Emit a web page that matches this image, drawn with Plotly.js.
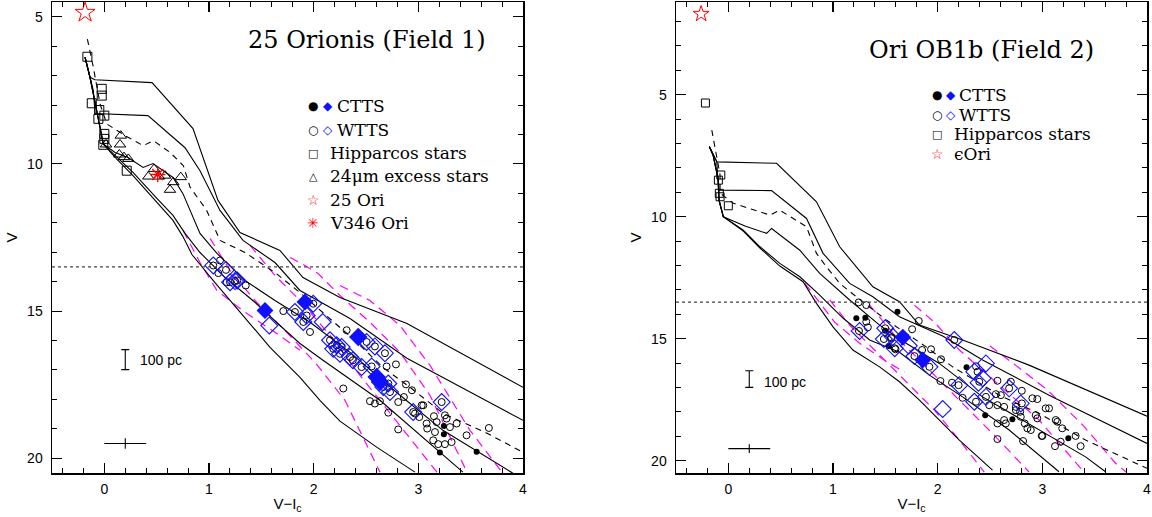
<!DOCTYPE html>
<html><head><meta charset="utf-8">
<script src="https://cdn.plot.ly/plotly-3.0.1.min.js"></script>
<style>html,body{margin:0;padding:0;background:#fff}#plot{width:1152px;height:517px}</style>
</head><body><div id="plot"></div>
<script>
// ---------------- LEFT PANEL (25 Orionis, Field 1) ----------------
const L_isoA = [[-0.184,6.38],[-0.137,7.06],[-0.089,7.14],[0.456,7.24],[0.847,8.80],[1.086,11.24],[1.296,12.33],[1.678,12.94],[1.898,13.86],[2.251,14.54],[2.891,15.42],[4.0,17.59]];
const L_isoB = [[-0.184,6.38],[-0.137,7.06],[-0.105,7.51],[-0.089,8.29],[0.417,8.36],[0.771,9.45],[0.914,10.23],[1.105,11.58],[1.325,12.60],[1.630,13.35],[1.869,14.30],[2.347,15.25],[2.891,16.60],[4.0,18.71]];
const L_isoDash = [[-0.162,5.76],[-0.105,6.72],[-0.041,7.96],[0.023,8.64],[0.198,9.04],[0.372,9.38],[0.468,9.21],[0.628,9.61],[0.755,10.06],[0.819,10.79],[0.978,11.58],[1.105,12.60],[1.344,13.01],[1.630,13.69],[1.869,14.37],[2.155,15.25],[2.394,16.0],[2.662,16.91],[2.920,17.59],[3.235,18.47],[3.656,19.15],[4.0,19.80]];
const L_isoC = [[-0.184,6.38],[-0.137,7.06],[-0.073,8.19],[-0.010,9.32],[0.102,9.61],[0.226,9.78],[0.370,10.12],[0.465,9.99],[0.656,10.46],[0.751,11.01],[0.914,12.36],[1.076,13.04],[1.344,13.96],[1.630,14.64],[1.965,15.38],[2.347,16.40],[2.825,17.86],[3.235,19.05],[3.904,20.51]];
const L_isoD = [[-0.184,6.38],[-0.137,7.06],[-0.073,8.19],[-0.010,9.32],[0.054,9.55],[0.121,9.78],[0.274,10.29],[0.504,11.18],[0.656,11.75],[0.771,12.36],[0.914,13.01],[1.153,13.86],[1.439,14.70],[1.678,15.49],[1.869,16.10],[2.089,16.67],[2.633,18.03],[3.426,20.47]];
const L_isoE = [[-0.184,6.38],[-0.137,7.06],[-0.073,8.19],[-0.010,9.32],[0.054,9.58],[0.121,9.85],[0.274,10.40],[0.504,11.31],[0.656,11.92],[0.751,12.47],[0.837,13.08],[1.057,14.03],[1.296,15.04],[1.583,16.23],[1.869,17.25],[2.060,18.03],[2.251,18.74],[2.605,19.63],[2.968,20.47]];
const L_tracks = [
  [[0.753,12.26],[0.914,13.35],[1.076,14.30],[1.344,15.04],[1.630,15.72],[1.869,16.33]],
  [[1.010,12.53],[1.201,13.62],[1.439,14.64],[1.726,15.66],[2.012,16.74],[2.299,18.03],[2.633,20.47]],
  [[1.392,12.77],[1.630,13.79],[1.869,14.64],[2.155,15.82],[2.442,17.18],[2.825,18.88],[3.178,20.47]],
  [[1.774,13.18],[1.917,13.45],[2.041,13.72],[2.251,14.47],[2.538,15.38],[2.825,16.40],[3.111,17.86],[3.465,20.47]],
  [[2.251,14.13],[2.538,14.64],[2.825,15.49],[3.111,16.84],[3.493,19.05],[3.799,20.47]]
];
const L_hipparcos = [[-0.162,6.36],[-0.025,7.45],[-0.025,7.68],[-0.12,7.94],[-0.048,8.17],[0.0,8.36],[-0.057,8.47],[0.0,8.98],[0.0,9.15],[-0.01,9.35],[0.214,10.23]];
const L_excess24 = [[0.157,9.04],[0.15,9.34],[0.016,9.34],[0.143,9.68],[0.188,9.77],[0.229,9.83],[0.42,10.43],[0.475,10.17],[0.522,10.43],[0.58,10.40],[0.659,10.62],[0.627,10.88],[0.73,10.45]];
const L_25Ori = [[-0.184,4.86]];
const L_V346 = [[0.51,10.36]];
const L_circles = [[1.105,13.28],[1.041,13.45],[1.089,13.71],[1.162,13.60],[1.169,14.02],[1.201,14.02],[1.249,13.98],[1.270,13.96],[1.351,14.13],
 [1.710,15.00],[1.821,15.03],[1.965,15.71],[1.996,14.75],[1.933,15.15],[1.901,15.37],[2.315,15.65],
 [2.156,15.99],[2.220,16.16],[2.267,16.22],[2.187,16.28],[2.251,16.45],
 [2.426,15.88],[2.506,16.05],[2.585,16.20],[2.681,16.43],[2.347,16.56],[2.375,16.67],[2.458,16.90],[2.554,16.88],
 [2.602,17.24],[2.633,17.41],[2.665,17.58],[2.713,17.46],[2.729,17.75],[2.951,18.43],[3.223,18.09],
 [2.697,16.88],[2.786,16.81],[2.882,17.49],[2.939,17.69],[2.283,17.63],[2.538,18.06],[2.585,18.14],[2.633,18.06],[2.713,18.45],[2.808,18.09],[2.862,17.92],[3.032,18.20],[3.047,18.20],[2.968,18.48],[3.009,18.60],[3.079,18.82],[3.149,18.57],[3.175,18.77],[3.159,19.11],[3.254,18.54],[3.270,18.65],[3.302,18.94],[3.366,18.82],[2.808,19.02],[3.142,19.39],[3.190,19.52],[3.254,19.52],[3.318,19.45],[3.461,19.22],[3.674,18.97],[3.085,18.99]];
const L_cttsDots = [[3.244,18.90],[3.244,19.18],[3.206,19.80],[3.557,19.78]];
const L_wttsDiamonds = [[1.041,13.45],[1.162,13.60],[1.201,14.02],[1.249,13.98],[1.270,13.96],[1.576,15.49],[1.996,14.75],[1.821,15.03],[1.933,15.15],[1.901,15.37],[2.086,15.37],[2.156,15.99],[2.220,16.16],[2.267,16.22],[2.187,16.28],[2.251,16.45],[2.426,15.88],[2.506,16.05],[2.585,16.20],[2.681,16.43],[2.347,16.56],[2.375,16.67],[2.458,16.90],[2.554,16.88],[2.602,17.24],[2.633,17.41],[2.665,17.58],[2.713,17.46],[2.729,17.75],[2.951,18.43],[3.223,18.09]];
const L_cttsDiamonds = [[1.535,14.98],[1.917,14.69],[2.602,17.24],[2.426,15.88],[2.633,17.41]];

// ---------------- RIGHT PANEL (Ori OB1b, Field 2) ----------------
const R_isoA = [[-0.181,7.13],[-0.146,7.47],[-0.110,7.75],[0.461,7.81],[0.842,9.39],[1.064,11.23],[1.381,12.87],[1.635,13.48],[1.826,14.44],[2.238,15.05],[2.873,16.08],[4.0,18.17]];
const R_isoB = [[-0.181,7.13],[-0.146,7.47],[-0.110,7.75],[-0.095,8.91],[0.413,8.93],[0.747,10.07],[0.905,11.50],[1.159,12.73],[1.381,13.28],[1.635,14.10],[2.048,14.89],[2.429,15.87],[3.064,17.31],[4.0,19.29]];
const R_isoDash = [[-0.158,6.45],[-0.110,7.54],[-0.079,8.29],[-0.079,9.04],[0.048,9.45],[0.397,9.93],[0.492,9.73],[0.747,10.41],[0.842,11.50],[0.937,12.05],[1.064,12.73],[1.223,13.28],[1.509,14.23],[1.890,15.33],[2.143,16.15],[2.588,17.31],[2.969,18.06],[3.413,19.15],[4.0,20.31]];
const R_isoC = [[-0.181,7.13],[-0.146,7.47],[-0.095,8.50],[-0.089,9.32],[-0.048,10.0],[0.159,10.38],[0.366,10.68],[0.413,10.48],[0.683,11.37],[0.873,12.32],[1.159,13.41],[1.445,14.44],[1.683,15.14],[2.016,16.01],[2.429,17.38],[2.969,18.74],[3.413,19.84],[3.604,20.45]];
const R_isoD = [[-0.181,7.13],[-0.146,7.47],[-0.095,8.50],[-0.089,9.32],[-0.048,10.0],[0.143,10.55],[0.302,11.23],[0.492,11.91],[0.683,12.46],[0.873,13.21],[1.095,14.15],[1.35,15.05],[1.635,15.55],[1.921,16.49],[2.238,17.38],[2.683,18.74],[3.159,20.45]];
const R_isoE = [[-0.181,7.13],[-0.146,7.47],[-0.095,8.50],[-0.089,9.32],[-0.048,10.0],[0.143,10.59],[0.302,11.28],[0.492,12.02],[0.714,12.66],[0.842,13.55],[1.0,14.51],[1.190,15.46],[1.445,16.15],[1.635,16.76],[1.826,17.51],[2.016,18.33],[2.207,19.15],[2.524,20.38]];
const R_tracks = [
  [[0.730,12.72],[0.854,13.41],[1.016,14.32],[1.254,15.18],[1.492,15.88],[1.683,16.37]],
  [[0.969,13.41],[1.159,14.44],[1.397,15.46],[1.683,16.69],[1.968,17.92],[2.207,19.15],[2.445,20.46]],
  [[1.35,13.62],[1.588,14.85],[1.873,16.08],[2.207,17.51],[2.540,18.95],[2.873,20.46]],
  [[1.778,13.62],[1.968,14.32],[2.207,15.46],[2.588,16.90],[2.969,18.33],[3.397,20.46]],
  [[2.500,15.30],[2.750,16.10],[3.050,17.10],[3.400,18.60],[3.700,20.10],[3.800,20.46]]
];
const R_hipparcos = [[-0.219,5.34],[-0.072,8.29],[-0.095,8.50],[-0.086,9.04],[-0.079,9.18],[0.0,9.55]];
const R_epsOri = [[-0.26,1.69]];
const R_circles = [[1.245,13.51],[1.318,13.62],[1.318,14.30],[1.333,14.53],[1.248,14.68],[1.499,14.57],[1.486,15.01],[1.556,14.94],[1.590,15.39],[1.819,14.27],[1.756,14.61],[1.556,14.98],[1.597,15.43],[1.778,15.71],[1.851,15.46],[1.937,15.43],[2.032,15.84],[1.921,16.15],[2.026,16.73],[2.137,16.80],[2.200,16.90],[2.238,17.42],[2.159,15.05],[2.366,16.13],[2.381,16.35],[2.397,16.76],[2.571,16.72],[2.699,16.76],[2.683,17.03],[2.804,17.13],[2.366,17.58],[2.461,17.38],[2.492,17.72],[2.556,17.27],[2.571,17.72],[2.635,17.79],[2.747,17.79],[2.804,17.65],[2.905,17.44],[2.952,17.47],[3.032,17.85],[3.064,17.85],[2.571,18.47],[2.635,18.33],[2.651,18.47],[2.788,17.99],[2.794,18.20],[2.832,18.47],[2.890,18.74],[2.937,18.13],[2.952,18.26],[3.128,18.33],[3.143,18.40],[3.190,18.67],[3.000,18.98],[2.994,18.98],[3.175,19.22],[3.121,19.40],[3.318,18.98],[3.366,19.40],[2.816,19.19],[2.571,19.11],[2.857,18.67],[2.747,17.92],[2.604,17.31]];
const R_cttsDots = [[1.223,14.16],[1.309,14.14],[1.499,14.67],[1.533,15.30],[1.616,13.89],[2.276,16.17],[2.454,18.13],[2.714,18.30],[3.248,19.08]];
const R_wttsDiamonds = [[1.254,14.68],[1.499,14.57],[1.486,15.01],[1.590,15.39],[1.571,14.92],[1.724,15.29],[1.778,15.71],[1.921,16.15],[2.159,15.05],[2.350,16.35],[2.461,16.01],[2.429,16.62],[2.390,16.80],[2.207,16.90],[2.683,17.03],[2.461,17.38],[2.350,17.58],[2.794,17.65],[2.048,17.88]];
const R_cttsDiamonds = [[1.667,14.94],[1.857,15.87]];

// reference limits / error markers
const detectionLimitV = 13.5;
const distBar = {x:0.2, v:16.65, dv:0.34};
const errCross = {x:0.2, v:19.5, dx:0.2, dv:0.18};

// ---------------- drawing ----------------
const W = 1152, H = 517;
const X = v => v / W, Y = v => 1 - v / H;
const xs = a => a.map(p => p[0]), ys = a => a.map(p => p[1]);
const traces = [];
function line(arr, ax, color, width, dash) {
  traces.push({type:'scatter', mode:'lines', x:xs(arr), y:ys(arr), xaxis:ax[0], yaxis:ax[1],
    line:{color:color, width:width, dash:dash || 'solid'}, hoverinfo:'skip', showlegend:false});
}
function pts(arr, ax, symbol, size, color, lw, fill) {
  traces.push({type:'scatter', mode:'markers', x:xs(arr), y:ys(arr), xaxis:ax[0], yaxis:ax[1],
    marker:{symbol:symbol, size:size, color:fill || color, line:{color:color, width:lw}}, hoverinfo:'skip', showlegend:false});
}
const AX1 = ['x','y'], AX2 = ['x2','y2'];
const MAG = '#ff00ff', BLUE = '#1010ff';

[[L_isoA,L_isoB,L_isoC,L_isoD,L_isoE,L_isoDash,L_tracks,AX1],[R_isoA,R_isoB,R_isoC,R_isoD,R_isoE,R_isoDash,R_tracks,AX2]].forEach(s => {
  const ax = s[7];
  s[6].forEach(t => line(t, ax, MAG, 1.2, '9px,6px'));
  [s[0],s[1],s[2],s[3],s[4]].forEach(l => line(l, ax, '#000', 1.1));
  line(s[5], ax, '#000', 1.1, '6px,5px');
});

pts(L_hipparcos, AX1, 'square-open', 9, '#000', 1);
pts(L_excess24, AX1, 'triangle-up-open', 10, '#000', 1);
pts(L_25Ori, AX1, 'star-open', 15, '#ff0000', 1);
pts(L_V346, AX1, 'asterisk-open', 13, '#ff0000', 1.3);
pts(L_circles, AX1, 'circle-open', 7, '#000', 1);
pts(L_cttsDots, AX1, 'circle', 6, '#000', 0);
pts(L_wttsDiamonds, AX1, 'diamond-open', 13, BLUE, 1.1);
pts(L_cttsDiamonds, AX1, 'diamond', 13, BLUE, 0);

pts(R_hipparcos, AX2, 'square-open', 8, '#000', 1);
pts(R_epsOri, AX2, 'star-open', 12, '#ff0000', 1);
pts(R_circles, AX2, 'circle-open', 7, '#000', 1);
pts(R_cttsDots, AX2, 'circle', 6, '#000', 0);
pts(R_wttsDiamonds, AX2, 'diamond-open', 13, BLUE, 1.1);
pts(R_cttsDiamonds, AX2, 'diamond', 13, BLUE, 0);

[AX1, AX2].forEach(ax => {
  traces.push({type:'scatter', mode:'markers', x:[distBar.x], y:[distBar.v], xaxis:ax[0], yaxis:ax[1],
    marker:{size:1, color:'rgba(0,0,0,0)'}, error_y:{type:'data', array:[distBar.dv], visible:true, color:'#000', thickness:1.1, width:4},
    hoverinfo:'skip', showlegend:false});
  traces.push({type:'scatter', mode:'markers', x:[errCross.x], y:[errCross.v], xaxis:ax[0], yaxis:ax[1],
    marker:{size:1, color:'rgba(0,0,0,0)'},
    error_x:{type:'data', array:[errCross.dx], visible:true, color:'#000', thickness:1.1, width:0},
    error_y:{type:'data', array:[errCross.dv], visible:true, color:'#000', thickness:1.1, width:0},
    hoverinfo:'skip', showlegend:false});
});

const tickFont = {family:'Liberation Sans, Arial, sans-serif', size:14, color:'#000'};
const sans = 'Liberation Sans, DejaVu Sans, sans-serif';
const serif = 'DejaVu Serif, Liberation Serif, serif';
function axis(extra) {
  return Object.assign({showline:true, linecolor:'#000', linewidth:1.5, mirror:'allticks', ticks:'inside', ticklen:10,
    tickwidth:1.1, tickcolor:'#000', showgrid:false, zeroline:false, tickfont:tickFont, tickmode:'linear', fixedrange:true, automargin:false}, extra);
}
const minorX = {ticks:'inside', ticklen:5, tickwidth:1, tickcolor:'#000', dtick:0.2, tick0:0, showgrid:false};
const minorY = {ticks:'inside', ticklen:5, tickwidth:1, tickcolor:'#000', dtick:1, tick0:0, showgrid:false};
const yDom = [1 - 473/H, 1 - 2/H];
const xTitle = {text:'V−I<sub>c</sub>', font:{family:sans, size:15, color:'#000'}, standoff:2};
const yTitle = {text:'V', font:{family:sans, size:15, color:'#000'}, standoff:6};

const anns = [];
function ann(text, xp, yp, o) {
  anns.push(Object.assign({text:text, xref:'paper', yref:'paper', x:X(xp), y:Y(yp), showarrow:false,
    xanchor:'left', yanchor:'middle', font:{family:serif, size:17, color:'#000'}}, o || {}));
}
function symAnn(t, xp, yp, c, s) {
  ann(t, xp, yp, {xanchor:'center', font:{family:'DejaVu Sans', size:s || 12, color:c || '#000'}});
}

// titles
ann('25 Orionis (Field 1)', 367, 40, {xanchor:'center', font:{family:serif, size:24, color:'#000'}});
ann('Ori OB1b (Field 2)', 981, 50, {xanchor:'center', font:{family:serif, size:24, color:'#000'}});
// left legend
symAnn('●', 313, 106); symAnn('◆', 328, 106, BLUE); ann('CTTS', 335, 106);
symAnn('○', 313, 130); symAnn('◇', 328, 130, BLUE); ann('WTTS', 335, 130);
symAnn('□', 313, 153, '#000', 11); ann('Hipparcos stars', 328, 153);
symAnn('△', 313, 176, '#000', 11); ann('24μm excess stars', 328, 176);
symAnn('☆', 313, 200, '#ff0000', 14); ann('25 Ori', 328, 200);
symAnn('✳', 313, 223, '#ff0000', 14); ann('V346 Ori', 328, 223);
// right legend
symAnn('●', 937, 95); symAnn('◆', 951, 95, BLUE); ann('CTTS', 957, 95);
symAnn('○', 937, 115); symAnn('◇', 951, 115, BLUE); ann('WTTS', 957, 115);
symAnn('□', 937, 134, '#000', 11); ann('Hipparcos stars', 952, 134);
symAnn('☆', 937, 154, '#ff0000', 14); ann('ϵOri', 952, 154);
// distance labels
ann('100 pc', 138, 360, {font:{family:sans, size:14, color:'#000'}});
ann('100 pc', 762, 382, {font:{family:sans, size:14, color:'#000'}});

const layout = {
  width:W, height:H, margin:{l:0, r:0, t:0, b:0}, paper_bgcolor:'#fff', plot_bgcolor:'#fff', showlegend:false,
  xaxis: axis({domain:[52/W, 523/W], range:[-0.5,4], dtick:1, tick0:0, minor:minorX, anchor:'y', ticklabelstandoff:3, title:xTitle}),
  yaxis: axis({domain:yDom, range:[20.5,4.5], dtick:5, tick0:0, minor:minorY, anchor:'x', ticklabelstandoff:5, title:yTitle}),
  xaxis2: axis({domain:[676/W, 1147/W], range:[-0.5,4], dtick:1, tick0:0, minor:minorX, anchor:'y2', ticklabelstandoff:3, title:xTitle}),
  yaxis2: axis({domain:yDom, range:[20.5,1.2], dtick:5, tick0:0, minor:minorY, anchor:'x2', ticklabelstandoff:5, title:yTitle}),
  shapes: [
    {type:'line', xref:'x domain', yref:'y', x0:0, x1:1, y0:detectionLimitV, y1:detectionLimitV, line:{color:'#444', width:1.2, dash:'dot'}},
    {type:'line', xref:'x2 domain', yref:'y2', x0:0, x1:1, y0:detectionLimitV, y1:detectionLimitV, line:{color:'#444', width:1.2, dash:'dot'}}
  ],
  annotations: anns
};
Plotly.newPlot('plot', traces, layout, {staticPlot:true, displayModeBar:false});
</script></body></html>
